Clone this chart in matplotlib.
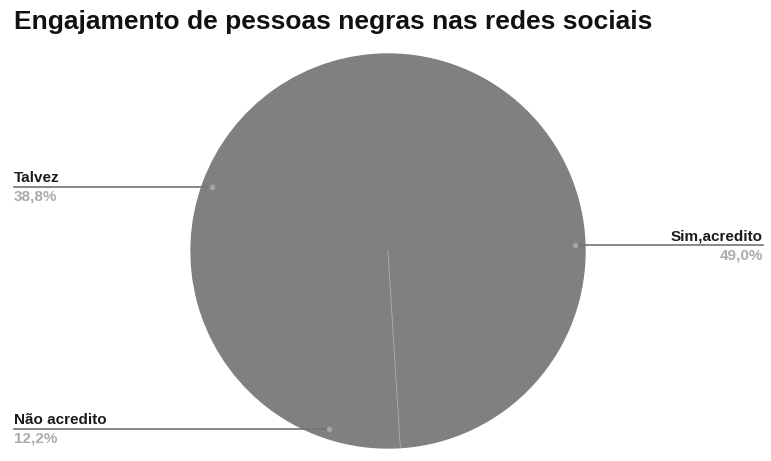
import numpy as np
import matplotlib.pyplot as plt

labels = ['Sim,acredito', 'Não acredito', 'Talvez']
values = [49.0, 12.2, 38.8]
pct_text = ['49,0%', '12,2%', '38,8%']

W, H = 771, 461
fig = plt.figure(figsize=(W / 100, H / 100), dpi=100)
ax = fig.add_axes([0, 0, 1, 1])

cx, cy, r = 388, H - 251, 197
grey = '#808080'

wedges, _ = ax.pie(values, colors=[grey] * 3, startangle=90, counterclock=False,
                   center=(cx, cy), radius=r, frame=True,
                   wedgeprops=dict(linewidth=1.0, edgecolor=grey))
ax.set_xlim(0, W)
ax.set_ylim(0, H)
ax.set_aspect('equal')
ax.axis('off')

# thin seam at the end of the first slice
end = np.deg2rad(90 - values[0] / 100 * 360)
ax.plot([cx, cx + r * np.cos(end)], [cy, cy + r * np.sin(end)],
        color='#b0b0b0', lw=0.6, zorder=5)

font = 'Liberation Sans'

# leader lines and labels
for w, lab, pct in zip(wedges, labels, pct_text):
    mid = np.deg2rad((w.theta1 + w.theta2) / 2)
    px = cx + 0.95 * r * np.cos(mid)
    py = cy + 0.95 * r * np.sin(mid)
    ax.plot(px, py, 'o', ms=4, color='#a5a5a5', mec='none', zorder=6)
    if px > cx:
        x0, x1, tx, ha = px, 763, 763, 'right'
    else:
        x0, x1, tx, ha = 14, px, 14, 'left'
    ax.plot([x0, x1], [py, py], color='#747474', lw=1.2, zorder=4)
    ax.text(tx, py + 5, lab, ha=ha, va='baseline', fontsize=11,
            fontweight='bold', color='#1c1c1c', family=font)
    ax.text(tx, py - 14, pct, ha=ha, va='baseline', fontsize=11,
            fontweight='bold', color='#ababab', family=font)

fig.text(14 / W, 1 - 29 / H, 'Engajamento de pessoas negras nas redes sociais',
         ha='left', va='baseline', fontsize=19, fontweight='bold', color='#111111',
         family=font)

fig.savefig('out.png', dpi=100)
